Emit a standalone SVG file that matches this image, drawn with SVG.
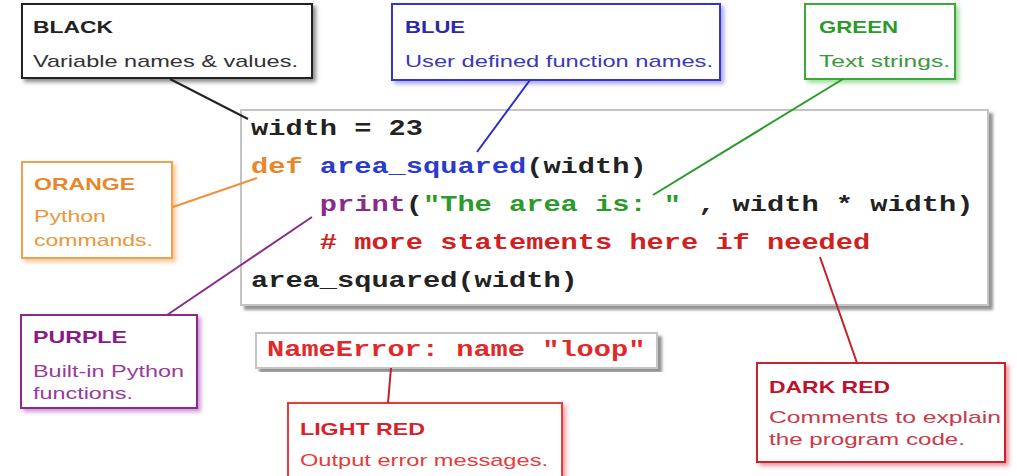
<svg xmlns="http://www.w3.org/2000/svg" width="1017" height="476" viewBox="0 0 1017 476">
<style>
.box{fill:#fff;stroke-width:2}
.h{font-family:"Liberation Sans",Arial,sans-serif;font-weight:bold;font-size:17px}
.t{font-family:"Liberation Sans",Arial,sans-serif;font-size:17px}
.c{font-family:"Liberation Mono","Courier New",monospace;font-weight:bold;font-size:22px;white-space:pre}
.ln{fill:none;stroke-width:2}
</style>
<defs>
<filter id="shK" x="-10%" y="-10%" width="130%" height="140%"><feDropShadow dx="3" dy="3" stdDeviation="2" flood-color="#555" flood-opacity="0.7"/></filter>
<filter id="shB" x="-10%" y="-10%" width="130%" height="140%"><feDropShadow dx="3" dy="3" stdDeviation="2" flood-color="#4a4ad0" flood-opacity="0.5"/></filter>
<filter id="shG" x="-10%" y="-10%" width="130%" height="140%"><feDropShadow dx="3" dy="3" stdDeviation="2" flood-color="#4ab84a" flood-opacity="0.5"/></filter>
<filter id="shO" x="-10%" y="-10%" width="130%" height="140%"><feDropShadow dx="3" dy="3" stdDeviation="2" flood-color="#f0a050" flood-opacity="0.6"/></filter>
<filter id="shP" x="-10%" y="-10%" width="130%" height="140%"><feDropShadow dx="3" dy="3" stdDeviation="2" flood-color="#b050c0" flood-opacity="0.6"/></filter>
<filter id="shR" x="-10%" y="-10%" width="130%" height="140%"><feDropShadow dx="3" dy="3" stdDeviation="2" flood-color="#e84040" flood-opacity="0.5"/></filter>
<filter id="shD" x="-10%" y="-10%" width="130%" height="140%"><feDropShadow dx="3" dy="3" stdDeviation="2" flood-color="#c83040" flood-opacity="0.5"/></filter>
<filter id="shC" x="-5%" y="-5%" width="110%" height="115%"><feDropShadow dx="4" dy="4" stdDeviation="1.5" flood-color="#777" flood-opacity="0.8"/></filter>
</defs>
<rect width="1017" height="476" fill="#fff"/>

<g id="code">
<rect x="241" y="110" width="747" height="195" fill="#fff" stroke="#c4c4c4" stroke-width="2" filter="url(#shC)"/>
<text class="c" x="251" y="135" fill="#222" textLength="172" lengthAdjust="spacingAndGlyphs">width = 23</text>
<text class="c" x="251" y="173" fill="#e8862a" textLength="51.6" lengthAdjust="spacingAndGlyphs">def</text>
<text class="c" x="319.8" y="173" fill="#2a3acc" textLength="206.4" lengthAdjust="spacingAndGlyphs">area_squared</text>
<text class="c" x="526.2" y="173" fill="#222" textLength="120.4" lengthAdjust="spacingAndGlyphs">(width)</text>
<text class="c" x="319.8" y="211" fill="#8a2a8a" textLength="86" lengthAdjust="spacingAndGlyphs">print</text>
<text class="c" x="405.8" y="211" fill="#222" textLength="17.2" lengthAdjust="spacingAndGlyphs">(</text>
<text class="c" x="423" y="211" fill="#2a9a2a" textLength="258" lengthAdjust="spacingAndGlyphs">"The area is: "</text>
<text class="c" x="698.2" y="211" fill="#222" textLength="275.2" lengthAdjust="spacingAndGlyphs">, width * width)</text>
<text class="c" x="319.8" y="249" fill="#d02020" textLength="550.4" lengthAdjust="spacingAndGlyphs"># more statements here if needed</text>
<text class="c" x="251" y="287" fill="#222" textLength="326.8" lengthAdjust="spacingAndGlyphs">area_squared(width)</text>
</g>

<g id="black">
<rect class="box" x="22" y="4" width="290" height="74" stroke="#222" filter="url(#shK)"/>
<text class="h" x="33" y="33" fill="#222" textLength="80" lengthAdjust="spacingAndGlyphs">BLACK</text>
<text class="t" x="33" y="67" fill="#333" textLength="265" lengthAdjust="spacingAndGlyphs">Variable names &amp; values.</text>
</g>

<g id="blue">
<rect class="box" x="392" y="4" width="328" height="76" stroke="#3636c8" filter="url(#shB)"/>
<text class="h" x="405" y="33" fill="#2a2aa8" textLength="60" lengthAdjust="spacingAndGlyphs">BLUE</text>
<text class="t" x="405" y="67" fill="#3a3ab8" textLength="308" lengthAdjust="spacingAndGlyphs">User defined function names.</text>
</g>

<g id="green">
<rect class="box" x="805" y="4" width="150" height="75" stroke="#3aaa3a" filter="url(#shG)"/>
<text class="h" x="819" y="33" fill="#2a9a2a" textLength="79" lengthAdjust="spacingAndGlyphs">GREEN</text>
<text class="t" x="819" y="67" fill="#3a9a3a" textLength="131" lengthAdjust="spacingAndGlyphs">Text strings.</text>
</g>

<g id="orange">
<rect class="box" x="22" y="162" width="150" height="96" stroke="#f0a050" filter="url(#shO)"/>
<text class="h" x="34" y="190" fill="#e8862a" textLength="101" lengthAdjust="spacingAndGlyphs">ORANGE</text>
<text class="t" x="34" y="222" fill="#ec963a" textLength="72" lengthAdjust="spacingAndGlyphs">Python</text>
<text class="t" x="34" y="246" fill="#ec963a" textLength="119" lengthAdjust="spacingAndGlyphs">commands.</text>
</g>

<g id="purple">
<rect class="box" x="21" y="315" width="176" height="93" stroke="#8a2a8a" filter="url(#shP)"/>
<text class="h" x="33" y="343" fill="#8a1a8a" textLength="94" lengthAdjust="spacingAndGlyphs">PURPLE</text>
<text class="t" x="33" y="377" fill="#9a3a9a" textLength="151" lengthAdjust="spacingAndGlyphs">Built-in Python</text>
<text class="t" x="33" y="399" fill="#9a3a9a" textLength="100" lengthAdjust="spacingAndGlyphs">functions.</text>
</g>

<g id="nameerror">
<rect x="256" y="333" width="401" height="35" fill="#fff" stroke="#c4c4c4" stroke-width="2" filter="url(#shC)"/>
<text class="c" x="267" y="356" fill="#e02a2a" textLength="378.4" lengthAdjust="spacingAndGlyphs">NameError: name "loop"</text>
</g>

<g id="lightred">
<rect class="box" x="288" y="403" width="274" height="80" stroke="#e83a3a" filter="url(#shR)"/>
<text class="h" x="300" y="435" fill="#d8202a" textLength="125" lengthAdjust="spacingAndGlyphs">LIGHT RED</text>
<text class="t" x="300" y="466" fill="#e83a3a" textLength="248" lengthAdjust="spacingAndGlyphs">Output error messages.</text>
</g>

<g id="darkred">
<rect class="box" x="757" y="363" width="248" height="99" stroke="#c8202a" filter="url(#shD)"/>
<text class="h" x="769" y="393" fill="#c0102a" textLength="121" lengthAdjust="spacingAndGlyphs">DARK RED</text>
<text class="t" x="769" y="423" fill="#c83a4a" textLength="232" lengthAdjust="spacingAndGlyphs">Comments to explain</text>
<text class="t" x="769" y="445" fill="#c83a4a" textLength="196" lengthAdjust="spacingAndGlyphs">the program code.</text>
</g>

<g id="connectors">
<line class="ln" x1="170" y1="79" x2="248" y2="119" stroke="#222"/>
<line class="ln" x1="530" y1="80" x2="477" y2="152" stroke="#2a2ad0"/>
<line class="ln" x1="843" y1="79" x2="653" y2="195" stroke="#2a9a2a"/>
<line class="ln" x1="173" y1="207" x2="257" y2="178" stroke="#f0903a"/>
<line class="ln" x1="167" y1="315" x2="312" y2="217" stroke="#8a2a8a"/>
<line class="ln" x1="820" y1="257" x2="857" y2="363" stroke="#c0202a"/>
<line class="ln" x1="391" y1="368" x2="388" y2="403" stroke="#c0202a"/>
</g>
</svg>
